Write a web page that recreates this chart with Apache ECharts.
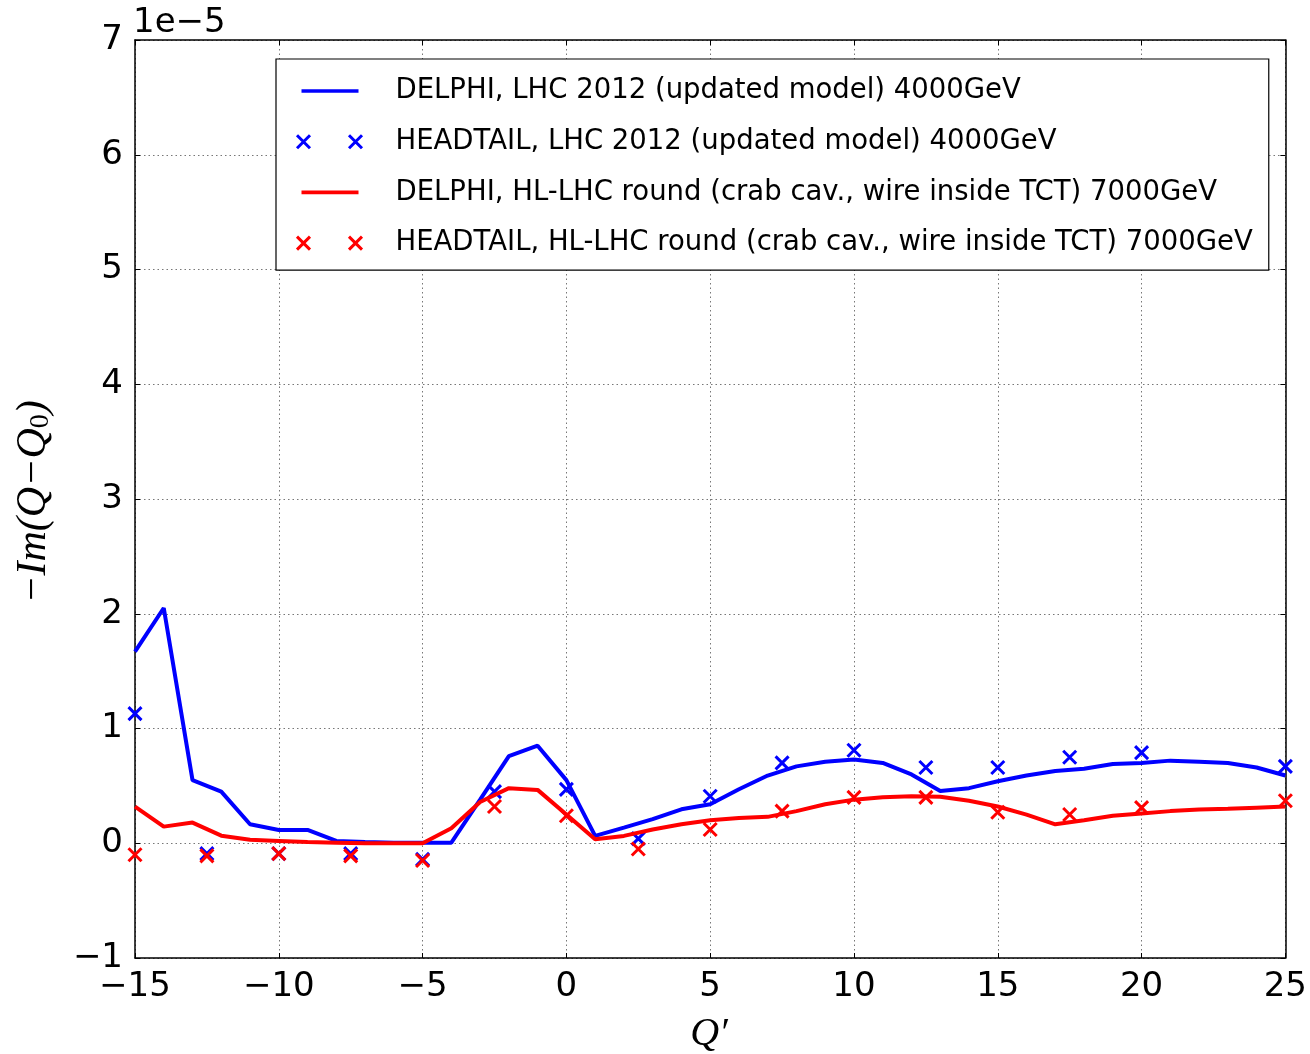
<!DOCTYPE html>
<html>
<head>
<meta charset="utf-8">
<script src="https://cdn.jsdelivr.net/npm/echarts@6/dist/echarts.min.js"></script>
<style>
html,body{margin:0;padding:0;background:#fff;}
#chart{width:1310px;height:1054px;}
</style>
</head>
<body>
<div id="chart"></div>
<script>
// Values in units of 1e-5
const delphiQ = [-15,-14,-13,-12,-11,-10,-9,-8,-7,-6,-5,-4,-3,-2,-1,0,1,2,3,4,5,6,7,8,9,10,11,12,13,14,15,16,17,18,19,20,21,22,23,24,25];
const delphiLHC2012 = [1.67,2.05,0.55,0.45,0.166,0.116,0.116,0.02,0.01,0.005,0.005,0.005,0.38,0.76,0.85,0.55,0.064,0.136,0.21,0.296,0.34,0.47,0.59,0.67,0.71,0.73,0.70,0.60,0.455,0.48,0.54,0.59,0.63,0.65,0.69,0.70,0.72,0.71,0.70,0.66,0.59];
const delphiHLLHC = [0.32,0.145,0.18,0.066,0.03,0.02,0.01,0.005,0.0,0.0,0.0,0.13,0.36,0.48,0.465,0.25,0.035,0.064,0.12,0.165,0.20,0.22,0.23,0.28,0.34,0.38,0.40,0.41,0.405,0.37,0.32,0.25,0.165,0.20,0.24,0.26,0.28,0.295,0.30,0.31,0.32];

const headtailQ = [-15,-12.5,-10,-7.5,-5,-2.5,0,2.5,5,7.5,10,12.5,15,17.5,20,25];
const headtailLHC2012 = [1.13,-0.09,-0.09,-0.09,-0.14,0.45,0.47,0.04,0.41,0.70,0.81,0.66,0.66,0.75,0.79,0.67];
const headtailHLLHC = [-0.10,-0.11,-0.09,-0.11,-0.15,0.32,0.24,-0.05,0.12,0.28,0.40,0.40,0.27,0.25,0.31,0.37];

const seriesNames = [
  'DELPHI, LHC 2012 (updated model) 4000GeV',
  'HEADTAIL, LHC 2012 (updated model) 4000GeV',
  'DELPHI, HL-LHC round (crab cav., wire inside TCT) 7000GeV',
  'HEADTAIL, HL-LHC round (crab cav., wire inside TCT) 7000GeV'
];
const xTicks = [-15,-10,-5,0,5,10,15,20,25];
const yTicks = [-1,0,1,2,3,4,5,6,7];

const pair = (xs, ys) => xs.map((x, i) => [x, ys[i]]);
const crossPath = 'path://M0,0L10,10M10,0L0,10';
const legendCross = 'path://M0,0M1.5,0.5L14.5,13.5M14.5,0.5L1.5,13.5M53.5,0.5L66.5,13.5M66.5,0.5L53.5,13.5M69,14';
const legendLine = 'path://M0,0M6,5.2L63,5.2L63,8.8L6,8.8ZM69,14';
const fmt = v => (v < 0 ? '\u2212' + Math.abs(v) : String(v));
const BLUE = '#0000ff', RED = '#ff0000';

const chart = echarts.init(document.getElementById('chart'), null, {renderer: 'canvas'});
const gridLine = {show: true, lineStyle: {color: '#777', type: [1.5, 3], width: 1}};
const option = {
  animation: false,
  backgroundColor: '#fff',
  grid: {left: 135, right: 22, top: 40, bottom: 96, containLabel: false},
  xAxis: [{
    type: 'value', min: xTicks[0], max: xTicks[xTicks.length - 1], interval: 5,
    axisLine: {show: true, onZero: false, lineStyle: {color: '#000', width: 1.5}},
    axisTick: {show: true, inside: true, length: 5, lineStyle: {color: '#000'}},
    axisLabel: {formatter: fmt, fontSize: 34, color: '#000', fontFamily: 'DejaVu Sans', margin: 12},
    splitLine: gridLine
  }, {
    type: 'value', position: 'top', min: xTicks[0], max: xTicks[xTicks.length - 1], interval: 5,
    axisLine: {show: true, onZero: false, lineStyle: {color: '#000', width: 1.5}},
    axisTick: {show: true, inside: true, length: 5, lineStyle: {color: '#000'}},
    axisLabel: {show: false}, splitLine: {show: false}
  }],
  yAxis: [{
    type: 'value', min: yTicks[0], max: yTicks[yTicks.length - 1], interval: 1,
    axisLine: {show: true, onZero: false, lineStyle: {color: '#000', width: 1.5}},
    axisTick: {show: true, inside: true, length: 5, lineStyle: {color: '#000'}},
    axisLabel: {formatter: fmt, fontSize: 34, color: '#000', fontFamily: 'DejaVu Sans', margin: 12},
    splitLine: gridLine
  }, {
    type: 'value', position: 'right', min: yTicks[0], max: yTicks[yTicks.length - 1], interval: 1,
    axisLine: {show: true, onZero: false, lineStyle: {color: '#000', width: 1.5}},
    axisTick: {show: true, inside: true, length: 5, lineStyle: {color: '#000'}},
    axisLabel: {show: false}, splitLine: {show: false}
  }],
  legend: {
    orient: 'vertical', left: 276, top: 59,
    padding: [17, 16, 12, 18],
    borderColor: '#000', borderWidth: 1.2, backgroundColor: '#fff',
    itemWidth: 69, itemHeight: 14, itemGap: 20.7,
    textStyle: {fontSize: 27.5, fontFamily: 'DejaVu Sans', color: '#000', lineHeight: 30, padding: [0, 0, 0, 26]},
    data: [
      {name: seriesNames[0], icon: legendLine, itemStyle: {color: BLUE, borderWidth: 0}},
      {name: seriesNames[1], icon: legendCross, itemStyle: {color: 'transparent', borderColor: BLUE, borderWidth: 3}},
      {name: seriesNames[2], icon: legendLine, itemStyle: {color: RED, borderWidth: 0}},
      {name: seriesNames[3], icon: legendCross, itemStyle: {color: 'transparent', borderColor: RED, borderWidth: 3}}
    ]
  },
  graphic: [
    {type: 'text', left: 133, top: 6, style: {text: '1e\u22125', fontSize: 34, fontFamily: 'DejaVu Sans', fill: '#000'}},
    {type: 'text', x: 34, y: 502, rotation: Math.PI / 2,
      style: {
        text: '{a|\u2212Im(Q\u2212Q}{s|0}{a|)}', align: 'center', verticalAlign: 'middle',
        rich: {
          a: {fontSize: 42, fontFamily: 'Liberation Serif', fontStyle: 'italic', fill: '#000'},
          s: {fontSize: 28, fontFamily: 'Liberation Serif', fill: '#000', padding: [14, 0, 0, 0]}
        }
      }},
    {type: 'text', x: 709, y: 1034, style: {text: 'Q\u2032', align: 'center', verticalAlign: 'middle', fontSize: 40, fontFamily: 'Liberation Serif', fontStyle: 'italic', fill: '#000'}}
  ],
  series: [
    {name: seriesNames[0], type: 'line', data: pair(delphiQ, delphiLHC2012), showSymbol: false, symbol: 'none',
      lineStyle: {color: BLUE, width: 4}, itemStyle: {color: BLUE}, z: 3},
    {name: seriesNames[1], type: 'scatter', data: pair(headtailQ, headtailLHC2012), symbol: crossPath, symbolSize: 13,
      itemStyle: {color: 'transparent', borderColor: BLUE, borderWidth: 3, opacity: 1}, z: 4},
    {name: seriesNames[2], type: 'line', data: pair(delphiQ, delphiHLLHC), showSymbol: false, symbol: 'none',
      lineStyle: {color: RED, width: 4}, itemStyle: {color: RED}, z: 5},
    {name: seriesNames[3], type: 'scatter', data: pair(headtailQ, headtailHLLHC), symbol: crossPath, symbolSize: 13,
      itemStyle: {color: 'transparent', borderColor: RED, borderWidth: 3, opacity: 1}, z: 6}
  ]
};
chart.setOption(option);
</script>
</body>
</html>
